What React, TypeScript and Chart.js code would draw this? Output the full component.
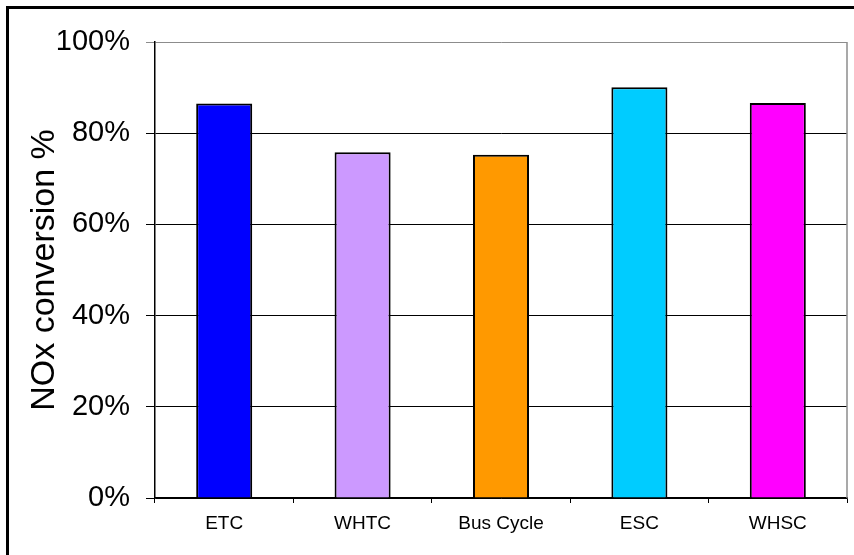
import React, { useEffect, useRef } from "react";
import { Chart, registerables } from "chart.js";

Chart.register(...registerables);

const categories = ["ETC", "WHTC", "Bus Cycle", "ESC", "WHSC"];
const values = [86.5, 75.8, 75.3, 90.1, 86.6];
const barColors = ["#0000FF", "#CC99FF", "#FF9900", "#00CCFF", "#FF00FF"];
const yTicks = [0, 20, 40, 60, 80, 100];
const yTitle = "NOx conversion %";

const FONT = "Arial, 'Liberation Sans', sans-serif";

export default function App() {
  const ref = useRef<HTMLCanvasElement | null>(null);

  useEffect(() => {
    if (!ref.current) return;
    const frame = {
      id: "frame",
      afterDraw(chart: any) {
        const { ctx, chartArea } = chart;
        ctx.save();
        ctx.strokeStyle = "#8c8c8c";
        ctx.lineWidth = 1.5;
        ctx.beginPath();
        ctx.moveTo(chartArea.right, chartArea.top);
        ctx.lineTo(chartArea.right, chartArea.bottom);
        ctx.stroke();
        ctx.restore();
      },
    };
    const chart = new Chart(ref.current, {
      type: "bar",
      data: {
        labels: categories,
        datasets: [
          {
            data: values,
            backgroundColor: barColors,
            borderColor: "#000",
            borderWidth: 2,
            barPercentage: 0.405,
            categoryPercentage: 1,
          },
        ],
      },
      plugins: [frame],
      options: {
        responsive: false,
        animation: false,
        events: [],
        layout: { padding: { left: 0, top: 42, right: 7, bottom: 0 } },
        plugins: { legend: { display: false }, tooltip: { enabled: false } },
        scales: {
          x: {
            offset: true,
            grid: {
              offset: true,
              drawOnChartArea: false,
              drawTicks: true,
              tickLength: 5,
              color: "#000",
            },
            border: { color: "#000", width: 1.5 },
            ticks: {
              color: "#000",
              font: { family: FONT, size: 19 },
              padding: 9,
              maxRotation: 0,
            },
            afterFit(scale: any) {
              scale.height = 57;
            },
          },
          y: {
            min: 0,
            max: 100,
            afterBuildTicks(scale: any) {
              scale.ticks = yTicks.map((v) => ({ value: v }));
            },
            grid: {
              color: (c: any) => (c.tick && c.tick.value === 100 ? "#8c8c8c" : "#000"),
              lineWidth: 1,
              tickLength: 9,
            },
            border: { color: "#000", width: 1.5 },
            ticks: {
              color: "#000",
              font: { family: FONT, size: 29 },
              padding: 16,
              callback: (v: any) => `${v}%`,
            },
            title: {
              display: true,
              text: yTitle,
              color: "#000",
              font: { family: FONT, size: 34 },
              padding: { top: 24, bottom: 0 },
            },
            afterFit(scale: any) {
              scale.width = 155;
            },
          },
        },
      },
    });
    return () => chart.destroy();
  }, []);

  return (
    <div style={{ position: "fixed", left: 0, top: 0, width: 854, height: 555, overflow: "hidden", background: "#fff" }}>
      <div
        style={{
          position: "absolute",
          left: 6,
          top: 6,
          width: 900,
          height: 600,
          borderLeft: "3px solid #000",
          borderTop: "3px solid #000",
        }}
      />
      <canvas ref={ref} width={854} height={555} style={{ position: "absolute", left: 0, top: 0 }} />
    </div>
  );
}
